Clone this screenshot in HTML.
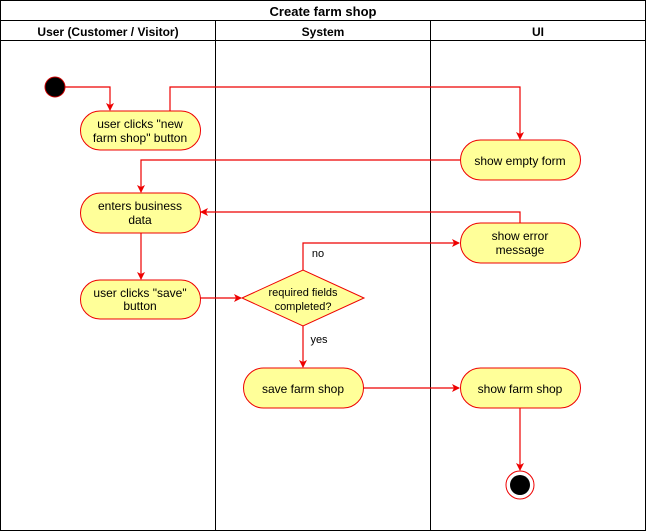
<!DOCTYPE html>
<html><head><style>body{margin:0;background:#fff}svg{display:block}</style></head><body>
<svg width="646" height="531" viewBox="0 0 646 531" xmlns="http://www.w3.org/2000/svg" font-family="Liberation Sans, sans-serif">
<defs><marker id="a" markerWidth="8" markerHeight="8" refX="7" refY="4" orient="auto" markerUnits="userSpaceOnUse"><path d="M0,0 L8,4 L0,8 L2,4 z" fill="#e00"/></marker></defs>
<rect x="0.5" y="0.5" width="645" height="530" fill="#fff" stroke="#000"/>
<line x1="0" y1="20.5" x2="646" y2="20.5" stroke="#000"/>
<line x1="0" y1="40.5" x2="646" y2="40.5" stroke="#000"/>
<line x1="215.5" y1="20" x2="215.5" y2="531" stroke="#000"/>
<line x1="430.5" y1="20" x2="430.5" y2="531" stroke="#000"/>
<text x="323" y="16" text-anchor="middle" font-size="13" font-weight="bold">Create farm shop</text>
<g font-size="12" font-weight="bold" text-anchor="middle">
<text x="108" y="36">User (Customer / Visitor)</text><text x="323" y="36">System</text><text x="538" y="36">UI</text></g>
<g fill="none" stroke="#e00" stroke-width="1.2">
<path d="M65,87 H110 V110" marker-end="url(#a)"/>
<path d="M170,111 V87 H520 V139" marker-end="url(#a)"/>
<path d="M460,160 H141 V192" marker-end="url(#a)"/>
<path d="M520,223 V212 H201" marker-end="url(#a)"/>
<path d="M141,233 V279" marker-end="url(#a)"/>
<path d="M200,298 H241" marker-end="url(#a)"/>
<path d="M303,270 V243 H459" marker-end="url(#a)"/>
<path d="M303,326 V367" marker-end="url(#a)"/>
<path d="M363,388 H459" marker-end="url(#a)"/>
<path d="M520,408 V470" marker-end="url(#a)"/>
</g>
<circle cx="55" cy="87" r="10" fill="#000" stroke="#c00"/>
<g fill="#ffff99" stroke="#e00" stroke-width="1">
<rect x="80.5" y="111" width="120" height="39" rx="19.5"/>
<rect x="460.5" y="140" width="120" height="40" rx="20"/>
<rect x="80.5" y="193" width="120" height="40" rx="20"/>
<rect x="460.5" y="223" width="120" height="40" rx="20"/>
<rect x="80.5" y="280" width="120" height="39" rx="19.5"/>
<path d="M242,298 L303,270 L364,298 L303,326 z"/>
<rect x="243.5" y="368" width="120" height="40" rx="20"/>
<rect x="460.5" y="368" width="120" height="40" rx="20"/>
</g>
<circle cx="520" cy="485" r="14" fill="#fff" stroke="#e00"/>
<circle cx="520" cy="485" r="10" fill="#000"/>
<g font-size="12" text-anchor="middle" fill="#000">
<text x="140" y="128">user clicks "new</text><text x="140" y="142">farm shop" button</text>
<text x="520" y="165">show empty form</text>
<text x="140" y="210">enters business</text><text x="140" y="224">data</text>
<text x="520" y="240">show error</text><text x="520" y="254">message</text>
<text x="140" y="297">user clicks "save"</text><text x="140" y="310">button</text>
<text x="303" y="296" font-size="11">required fields</text><text x="303" y="310" font-size="11">completed?</text>
<text x="303" y="393">save farm shop</text>
<text x="520" y="393">show farm shop</text>
<text x="318" y="257" font-size="11">no</text>
<text x="319" y="343" font-size="11">yes</text>
</g>
</svg>
</body></html>
